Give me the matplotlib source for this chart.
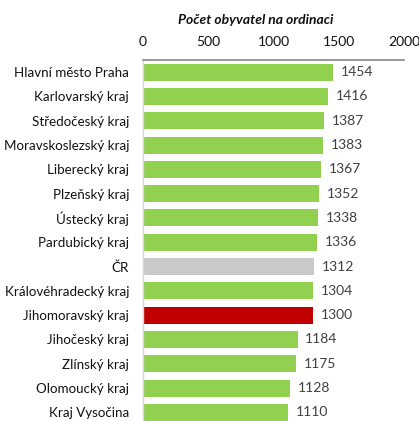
import matplotlib
matplotlib.use('Agg')
import matplotlib.pyplot as plt

plt.rcParams['font.family'] = ['Lato', 'DejaVu Sans']

# data
regions = ['Hlavní město Praha', 'Karlovarský kraj', 'Středočeský kraj',
           'Moravskoslezský kraj', 'Liberecký kraj', 'Plzeňský kraj',
           'Ústecký kraj', 'Pardubický kraj', 'ČR', 'Královéhradecký kraj',
           'Jihomoravský kraj', 'Jihočeský kraj', 'Zlínský kraj',
           'Olomoucký kraj', 'Kraj Vysočina']
values = [1454, 1416, 1387, 1383, 1367, 1352, 1338, 1336, 1312, 1304,
          1300, 1184, 1175, 1128, 1110]
ticks = [0, 500, 1000, 1500, 2000]
title = 'Počet obyvatel na ordinaci'

green = '#92D050'
colors = []
for r in regions:
    if r == 'ČR':
        colors.append('#C9C9C9')
    elif r == 'Jihomoravský kraj':
        colors.append('#C00000')
    else:
        colors.append(green)

W, H = 419, 421
fig = plt.figure(figsize=(W / 100, H / 100), dpi=100)
left, right, top, bottom = 143, 404, 60, 421
ax = fig.add_axes([left / W, 1 - bottom / H, (right - left) / W, (bottom - top) / H])

ypos = list(range(len(regions)))
ax.barh(ypos, values, height=0.7, color=colors)

ax.set_xlim(0, 2000)
unit = 24.3
ax.set_ylim(-0.5 + (bottom - top) / unit, -0.5)

ax.set_yticks(ypos)
ax.set_yticklabels(regions, fontsize=9.6, color='#111111')
ax.tick_params(axis='y', length=0, pad=10)

ax.xaxis.tick_top()
ax.set_xticks(ticks)
ax.set_xticklabels([str(t) for t in ticks], fontsize=10, color='#111111')
ax.tick_params(axis='x', length=0, pad=9)

for s in ['right', 'bottom']:
    ax.spines[s].set_visible(False)
ax.spines['top'].set_color('#868686')
ax.spines['top'].set_linewidth(1.2)
ax.spines['left'].set_color('#D9D9D9')
ax.spines['left'].set_linewidth(1.0)

for y, v in zip(ypos, values):
    ax.text(v + 60, y, str(v), va='center', ha='left', fontsize=10, color='#404040')

fig.text(256 / W, 1 - 20 / H, title, ha='center', va='center', fontsize=10,
         fontweight='bold', fontstyle='italic', color='#111111')

fig.savefig('out.png', dpi=100)
